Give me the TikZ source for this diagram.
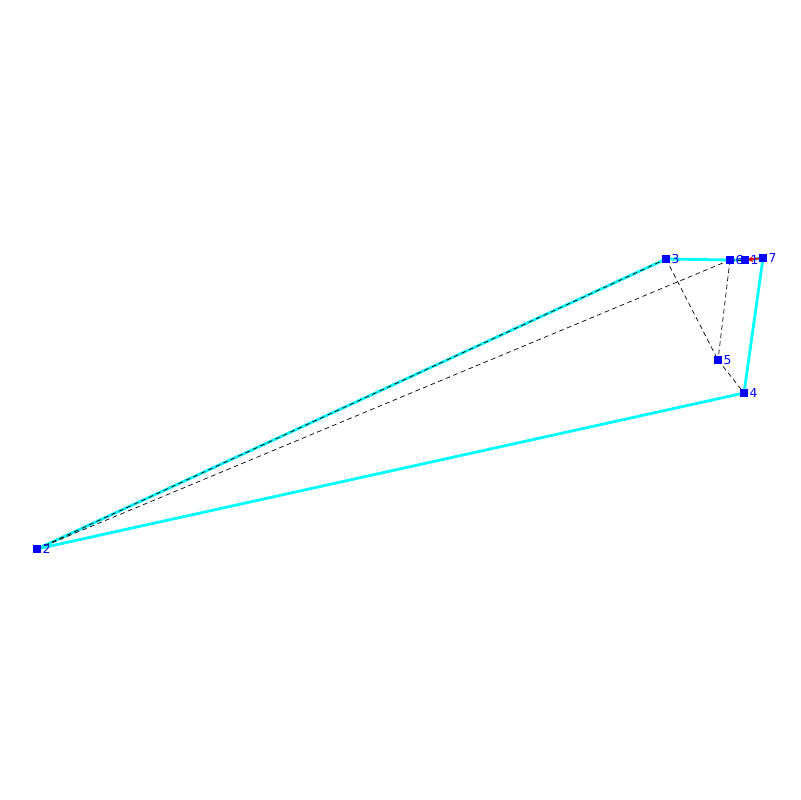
\documentclass[tikz,border=0pt]{standalone}
\usepackage{fontspec}
\setmainfont{DejaVu Sans}
\usetikzlibrary{arrows.meta}
\definecolor{ptblue}{RGB}{0,0,255}
\definecolor{edgecyan}{RGB}{0,255,255}
\definecolor{arrred}{RGB}{255,0,0}
\tikzset{
  pt/.style={fill=ptblue, inner sep=0pt, minimum size=2.3mm, draw=none},
  lbl/.style={text=ptblue, font=\fontsize{10.5pt}{10.5pt}\selectfont, inner sep=0pt, anchor=west},
  hull/.style={draw=edgecyan, line width=2.4pt, line join=round},
  tri/.style={draw=black, line width=0.6pt, dash pattern=on 4pt off 3pt},
  redarr/.style={draw=arrred, line width=1.6pt, -{Stealth[length=5pt,width=5pt]}, shorten >=2pt}
}
\begin{document}
\begin{tikzpicture}[x=0.3mm,y=-0.3mm]
\useasboundingbox[fill=white] (0,0) rectangle (800,800);
\coordinate (c1) at (745,260);
\coordinate (c2) at (37,549);
\coordinate (c3) at (666,259);
\coordinate (c4) at (744,393);
\coordinate (c5) at (718,360);
\coordinate (c6) at (730,260);
\coordinate (c7) at (763,258);
% hull
\draw[hull] (c2) -- (c3) -- (c6) -- (c1) -- (c7) -- (c4) -- cycle;
% dashed edges
\draw[tri] (c2) -- (c3);
\draw[tri] (c2) -- (c6);
\draw[tri] (c3) -- (c5);
\draw[tri] (c6) -- (c5);
\draw[tri] (c5) -- (c4);
\draw[tri] (c6) -- (c1);
% red arrow
\draw[redarr] (c7) -- (c1);
% points
\foreach \i in {1,...,7}{
  \node[pt] (p\i) at (c\i) {};
  \node[lbl] (l\i) at ([xshift=4.5]c\i) {\i};
}
\end{tikzpicture}
\end{document}
